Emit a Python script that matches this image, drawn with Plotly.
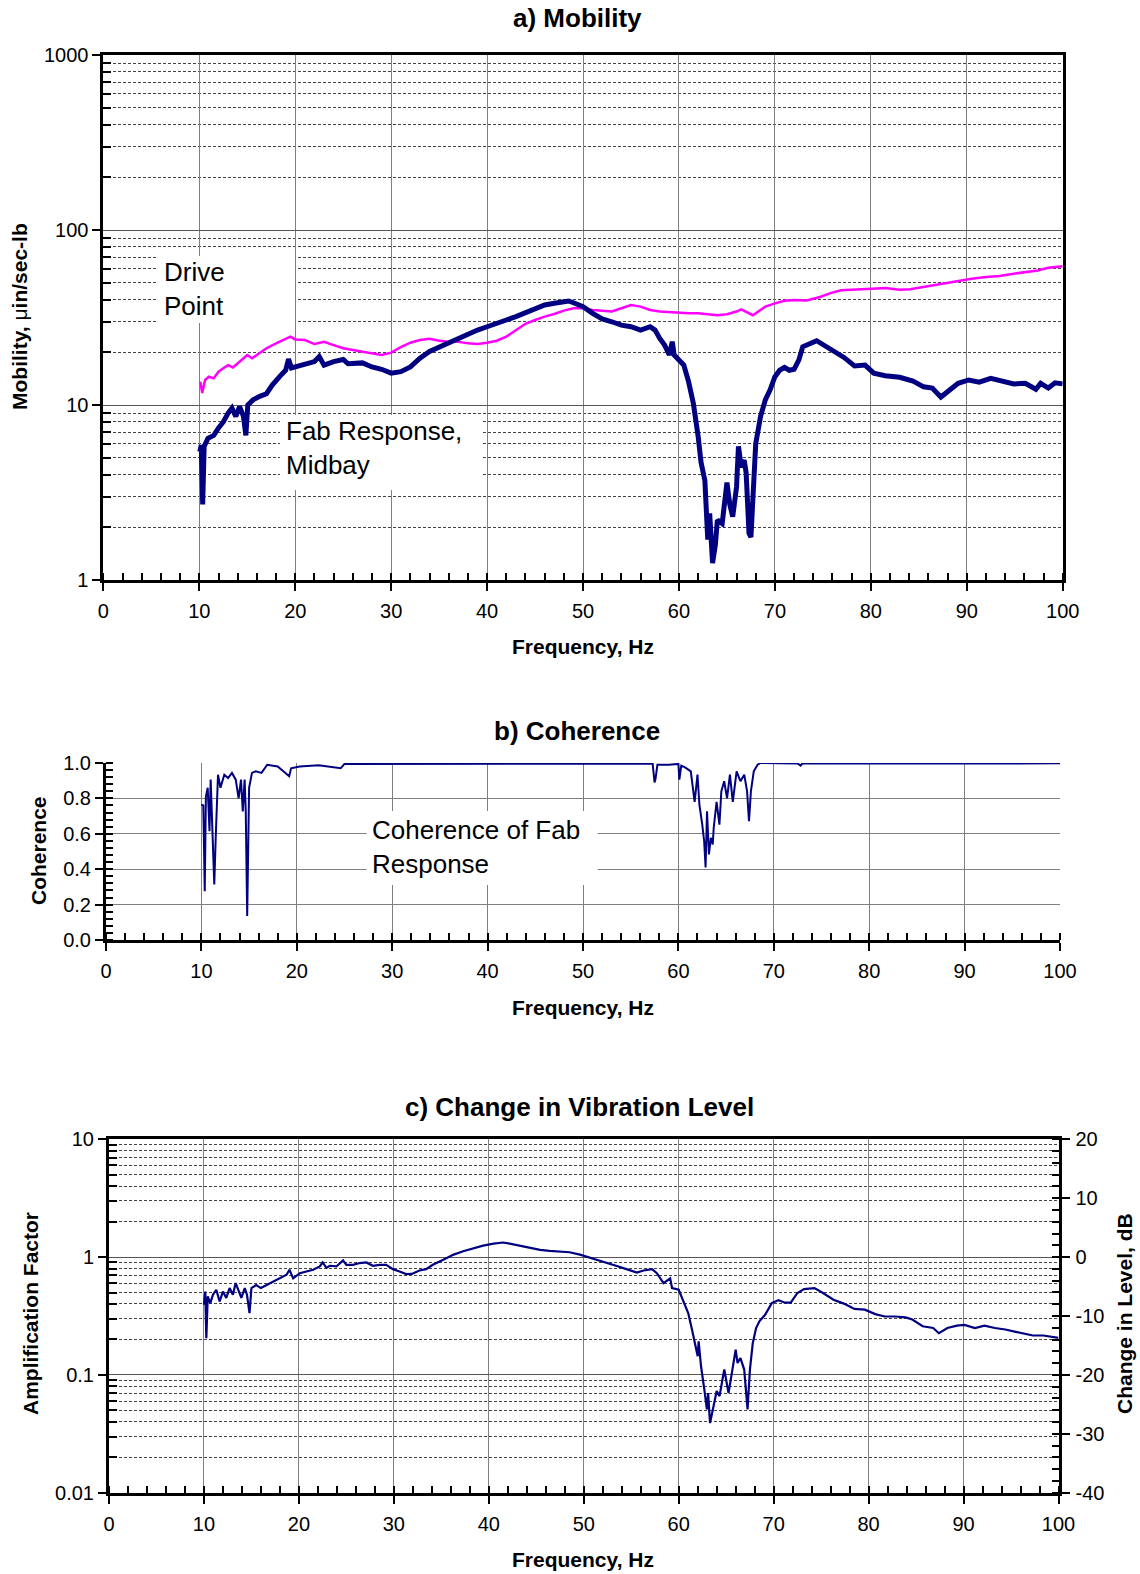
import math
import plotly.graph_objects as go

# ---------------- data ----------------
fab_freq = [10.05, 10.2, 10.35, 10.5, 10.9, 11.5, 12.0, 12.5, 13.0, 13.4, 13.8, 14.2, 14.6, 14.85, 15.05,
            15.6, 16.3, 17.0, 17.6, 18.0, 18.6, 19.0, 19.3, 19.6, 20.0, 21.0, 22.0, 22.5, 23.0, 24.0, 25.0,
            25.5, 26.0, 27.0, 28.0, 29.0, 30.0, 31.0, 32.0, 33.0, 34.0, 35.0, 36.0, 37.0, 38.0, 39.0, 40.0,
            41.0, 42.0, 43.0, 44.0, 45.0, 46.0, 47.0, 48.0, 48.5, 49.0, 50.0, 51.0, 52.0, 53.0, 54.0, 55.0,
            56.0, 57.0, 57.5, 58.0, 58.5, 59.0, 59.3, 59.5, 60.0, 60.5, 61.0, 61.5, 62.0, 62.3, 62.7, 63.0,
            63.2, 63.5, 63.8, 64.0, 64.5, 65.0, 65.3, 65.6, 66.0, 66.2, 66.5, 66.8, 67.0, 67.3, 67.5, 67.8,
            68.0, 68.5, 69.0, 69.5, 70.0, 70.5, 71.0, 71.5, 72.0, 72.5, 72.9, 74.35, 75.1, 76.2, 77.2, 78.3,
            79.4, 80.3, 81.5, 83.0, 84.4, 85.5, 86.4, 87.3, 88.0, 89.1, 90.2, 91.3, 92.5, 93.8, 94.9, 96.1,
            97.2, 97.7, 98.5, 99.2, 100.0]
fab_mob = [5.4, 5.9, 2.7, 5.8, 6.45, 6.7, 7.4, 8.0, 9.0, 9.6, 8.6, 9.8, 8.6, 6.7, 10.0,
           10.7, 11.2, 11.6, 13.0, 13.9, 15.0, 15.8, 18.3, 16.3, 16.5, 16.9, 17.7, 18.9, 16.9, 17.7, 18.2,
           17.2, 17.3, 17.4, 16.5, 16.0, 15.2, 15.5, 16.5, 18.5, 20.2, 21.4, 22.5, 24.0, 25.3, 26.8, 28.0,
           29.1, 30.6, 32.0, 33.7, 35.7, 37.3, 38.1, 38.9, 39.3, 38.4, 36.5, 33.4, 31.0, 29.9, 28.6, 28.0,
           26.8, 28.0, 26.8, 24.0, 22.0, 19.3, 23.0, 19.3, 18.1, 16.9, 13.6, 10.2, 6.6, 4.7, 3.7, 1.7,
           2.4, 1.25, 1.6, 2.2, 2.1, 3.6, 2.7, 2.3, 3.4, 5.8, 4.4, 4.85, 4.1, 1.85, 1.76, 3.7,
           6.0, 8.6, 10.7, 12.2, 14.5, 15.8, 16.4, 15.8, 16.0, 18.1, 21.5, 23.3, 22.0, 19.9, 18.7, 16.7,
           16.9, 15.2, 14.7, 14.4, 13.7, 12.7, 12.5, 11.1, 12.0, 13.3, 13.9, 13.5, 14.2, 13.6, 13.2, 13.3,
           12.3, 13.3, 12.5, 13.4, 13.2]

drive_freq = [10.1, 10.3, 10.6, 11.0, 11.5, 12.0, 12.5, 13.0, 13.5, 14.0, 14.5, 15.0, 15.5, 16.0, 17.0,
              18.0, 19.0, 19.5, 20.0, 21.0, 22.0, 23.0, 24.0, 25.0, 26.0, 27.0, 28.0, 29.0, 30.0, 31.0,
              32.0, 33.0, 34.0, 35.0, 36.0, 37.0, 38.0, 39.0, 40.0, 41.0, 42.0, 43.0, 44.0, 45.0, 46.0,
              47.0, 48.0, 49.0, 50.0, 51.0, 52.0, 53.0, 54.0, 55.0, 56.0, 57.0, 58.0, 59.0, 60.0, 61.0,
              62.0, 63.0, 64.0, 65.0, 66.0, 66.5, 67.0, 67.7, 68.0, 69.0, 70.0, 71.0, 72.0, 73.3, 74.7,
              75.8, 76.9, 78.3, 80.1, 81.5, 83.0, 84.1, 85.1, 86.2, 87.7, 89.1, 90.5, 92.0, 93.4, 94.9,
              96.3, 97.4, 98.5, 100.0]
drive_mob = [13.6, 11.7, 13.9, 14.5, 14.2, 15.5, 16.2, 16.9, 16.4, 17.3, 18.1, 19.3, 18.5, 19.3, 21.1,
             22.5, 24.0, 24.6, 23.7, 23.5, 22.3, 23.0, 22.0, 21.1, 20.6, 20.2, 19.8, 19.3, 19.9, 21.4,
             22.7, 23.5, 23.9, 23.3, 23.0, 23.0, 22.5, 22.3, 22.7, 23.3, 24.6, 26.8, 29.1, 30.6, 32.0,
             33.1, 34.6, 35.7, 35.7, 34.9, 34.5, 34.2, 35.7, 37.3, 36.5, 34.9, 34.2, 33.9, 33.7, 33.4,
             33.4, 33.0, 32.6, 33.0, 34.2, 35.2, 34.2, 32.6, 33.4, 36.5, 38.1, 39.4, 39.8, 39.6, 41.4,
             43.6, 45.2, 45.8, 46.2, 46.6, 45.6, 45.8, 46.8, 48.3, 49.9, 51.1, 52.7, 53.8, 54.6, 56.3,
             57.4, 58.7, 60.8, 62.0]

coh_freq = [10.0, 10.2, 10.35, 10.47, 10.66, 10.85, 10.97, 11.1, 11.35, 11.5, 11.74, 12.0, 12.4, 12.8,
            13.2, 13.6, 13.9, 14.15, 14.34, 14.53, 14.65, 14.8, 15.0, 15.3, 15.7, 16.3, 16.9, 18.0, 19.2,
            19.4, 20.3, 22.3, 24.6, 25.0, 30.0, 35.0, 40.0, 45.0, 50.0, 55.0, 57.3, 57.5, 57.6, 57.8,
            59.0, 60.0, 60.1, 60.3, 60.7, 61.3, 61.7, 62.0, 62.2, 62.5, 62.7, 62.85, 63.0, 63.2, 63.4,
            63.6, 63.7, 64.0, 64.3, 64.5, 64.8, 65.1, 65.4, 65.7, 66.1, 66.5, 66.9, 67.2, 67.4, 67.6,
            67.9, 68.3, 68.6, 72.5, 72.8, 73.0, 80.0, 90.0, 100.0]
coh_val = [0.765, 0.76, 0.276, 0.81, 0.86, 0.615, 0.906, 0.67, 0.314, 0.577, 0.934, 0.86, 0.934, 0.915,
           0.944, 0.906, 0.80, 0.906, 0.727, 0.906, 0.727, 0.135, 0.86, 0.944, 0.953, 0.944, 0.99, 0.98,
           0.925, 0.97, 0.98, 0.987, 0.97, 0.995, 0.995, 0.998, 0.997, 0.998, 0.998, 0.997, 0.997, 0.89,
           0.91, 0.99, 0.99, 0.995, 0.906, 0.985, 0.975, 0.953, 0.78, 0.934, 0.765, 0.652, 0.558, 0.41,
           0.727, 0.483, 0.577, 0.54, 0.633, 0.78, 0.652, 0.84, 0.897, 0.80, 0.934, 0.78, 0.953, 0.897,
           0.934, 0.84, 0.671, 0.84, 0.953, 0.99, 1.0, 0.997, 0.985, 0.997, 0.998, 0.998, 0.998]

amp_freq = [10.0, 10.14, 10.25, 10.4, 10.67, 10.95, 11.3, 11.65, 12.0, 12.35, 12.7, 13.05, 13.34, 13.7,
            13.94, 14.3, 14.53, 14.8, 15.0, 15.5, 16.0, 16.6, 17.3, 18.0, 18.7, 19.0, 19.4, 20.1, 20.8,
            21.5, 22.2, 22.5, 22.9, 23.25, 23.95, 24.65, 25.0, 25.7, 26.4, 27.1, 27.8, 28.5, 29.2, 29.9,
            30.6, 31.3, 31.9, 32.7, 33.4, 34.1, 35.2, 36.3, 37.3, 38.4, 39.4, 40.5, 41.5, 42.2, 43.3,
            44.3, 45.4, 46.4, 47.5, 48.5, 49.6, 50.3, 51.3, 52.4, 53.4, 54.5, 55.6, 56.3, 57.2, 57.7,
            58.4, 59.1, 59.3, 60.0, 60.5, 61.0, 61.4, 61.8, 62.0, 62.1, 62.35, 62.7, 62.97, 63.1, 63.3,
            63.6, 64.0, 64.3, 64.8, 65.25, 65.6, 66.0, 66.2, 66.5, 66.9, 67.25, 67.5, 67.8, 68.15, 68.5,
            69.1, 69.8, 70.5, 71.2, 71.8, 72.5, 73.2, 74.3, 75.2, 76.3, 77.4, 78.5, 79.6, 80.7, 81.7,
            82.8, 83.9, 84.6, 85.7, 86.8, 87.4, 88.3, 89.3, 90.1, 91.2, 92.2, 93.3, 94.4, 95.5, 96.6,
            97.3, 98.4, 99.5, 100.0]
amp_val = [0.394, 0.51, 0.205, 0.464, 0.407, 0.48, 0.528, 0.42, 0.51, 0.45, 0.546, 0.48, 0.602, 0.51,
           0.45, 0.546, 0.48, 0.335, 0.546, 0.58, 0.546, 0.58, 0.62, 0.66, 0.708, 0.78, 0.66, 0.73, 0.755,
           0.78, 0.833, 0.90, 0.81, 0.844, 0.833, 0.937, 0.86, 0.86, 0.89, 0.90, 0.844, 0.86, 0.86, 0.79,
           0.755, 0.717, 0.72, 0.77, 0.79, 0.86, 0.949, 1.05, 1.12, 1.19, 1.25, 1.30, 1.33, 1.30, 1.25,
           1.19, 1.15, 1.13, 1.12, 1.10, 1.05, 1.01, 0.96, 0.90, 0.844, 0.79, 0.74, 0.77, 0.79, 0.73,
           0.60, 0.66, 0.546, 0.528, 0.42, 0.335, 0.243, 0.175, 0.144, 0.193, 0.119, 0.075, 0.051, 0.070,
           0.039, 0.051, 0.073, 0.066, 0.111, 0.070, 0.104, 0.164, 0.126, 0.139, 0.111, 0.051, 0.111,
           0.186, 0.25, 0.285, 0.324, 0.407, 0.43, 0.41, 0.41, 0.496, 0.535, 0.546, 0.496, 0.435, 0.403,
           0.363, 0.358, 0.328, 0.313, 0.313, 0.308, 0.295, 0.259, 0.25, 0.226, 0.25, 0.262, 0.266, 0.25,
           0.262, 0.25, 0.243, 0.232, 0.224, 0.216, 0.216, 0.209, 0.206]

amp_db = [20 * math.log10(v) for v in amp_val]

mob_ticks = [1, 10, 100, 1000]
amp_ticks = [0.01, 0.1, 1, 10]
amp_tick_text = ["0.01", "0.1", "1", "10"]
db_ticks = [-40, -30, -20, -10, 0, 10, 20]
db_tick_text = ["-40", "-30", "-20", "-10", "0", "10", "20"]

# ---------------- layout helpers ----------------
W, H = 1140, 1574
FONT = "Liberation Sans, Arial, sans-serif"
NAVY = "#000080"
MAGENTA = "#FF00FF"


def fx(p):
    return p / W


def fy(p):
    return 1 - p / H


def minor_log(lo, hi):
    vals = []
    d = lo
    while d < hi * 0.999:
        for k in range(2, 10):
            vals.append(round(k * d, 6))
        d *= 10
    return vals


tickfont = dict(family=FONT, size=20, color="black")

fig = go.Figure()
fig.add_trace(go.Scatter(x=drive_freq, y=drive_mob, mode="lines",
                         line=dict(color=MAGENTA, width=2.5), xaxis="x", yaxis="y"))
fig.add_trace(go.Scatter(x=fab_freq, y=fab_mob, mode="lines",
                         line=dict(color=NAVY, width=5), xaxis="x", yaxis="y"))
fig.add_trace(go.Scatter(x=coh_freq, y=coh_val, mode="lines",
                         line=dict(color=NAVY, width=2), xaxis="x2", yaxis="y2"))
fig.add_trace(go.Scatter(x=amp_freq, y=amp_val, mode="lines",
                         line=dict(color=NAVY, width=2.2), xaxis="x3", yaxis="y3"))
fig.add_trace(go.Scatter(x=amp_freq, y=amp_db, mode="lines",
                         line=dict(color="rgba(0,0,0,0)", width=1), xaxis="x3", yaxis="y4",
                         hoverinfo="skip"))


def xaxis_common(domain, anchor, mirror):
    return dict(domain=domain, anchor=anchor, range=[0, 100], tickmode="linear", tick0=0, dtick=10,
                ticks="outside", ticklen=8, tickwidth=2, tickcolor="black", automargin=False,
                showline=True, linecolor="black", linewidth=3, mirror=mirror,
                showgrid=True, gridcolor="#808080", gridwidth=1, zeroline=False,
                tickfont=tickfont, ticklabelstandoff=3,
                minor=dict(dtick=2, tick0=0, ticks="inside", ticklen=7, tickwidth=2,
                           tickcolor="black", showgrid=False))


fig.update_layout(
    width=W, height=H, margin=dict(l=0, r=0, t=0, b=0, autoexpand=False),
    paper_bgcolor="white", plot_bgcolor="white", showlegend=False,
    xaxis=xaxis_common([fx(103.4), fx(1062.7)], "y", True),
    yaxis=dict(domain=[fy(580), fy(55)], anchor="x", type="log", range=[0, 3], automargin=False,
               tickmode="array", tickvals=mob_ticks, ticktext=[str(v) for v in mob_ticks],
               ticks="outside", ticklen=8, tickwidth=2, tickcolor="black",
               showline=True, linecolor="black", linewidth=3, mirror=True,
               showgrid=True, gridcolor="#555555", gridwidth=1, zeroline=False,
               tickfont=tickfont, ticklabelstandoff=0,
               minor=dict(tickmode="array", tickvals=minor_log(1, 1000), ticks="inside", ticklen=8,
                          tickwidth=2, tickcolor="black", showgrid=True, gridcolor="#444444",
                          gridwidth=1, griddash="3px,2px")),
    xaxis2=xaxis_common([fx(106), fx(1060)], "y2", False),
    yaxis2=dict(domain=[fy(940), fy(763)], anchor="x2", range=[0, 1], tickmode="linear", tick0=0,
                dtick=0.2, tickformat=".1f", automargin=False,
                ticks="outside", ticklen=8, tickwidth=2, tickcolor="black",
                showline=True, linecolor="black", linewidth=3, mirror=False,
                showgrid=True, gridcolor="#808080", gridwidth=1, zeroline=False,
                tickfont=tickfont, ticklabelstandoff=0,
                minor=dict(dtick=0.04, tick0=0, ticks="inside", ticklen=7, tickwidth=2,
                           tickcolor="black", showgrid=False)),
    xaxis3=xaxis_common([fx(109), fx(1058.5)], "y3", True),
    yaxis3=dict(domain=[fy(1492.7), fy(1139.3)], anchor="x3", type="log", range=[-2, 1],
                tickmode="array", tickvals=amp_ticks, ticktext=amp_tick_text, automargin=False,
                ticks="outside", ticklen=8, tickwidth=2, tickcolor="black",
                showline=True, linecolor="black", linewidth=3, mirror=False,
                showgrid=True, gridcolor="#555555", gridwidth=1, zeroline=False,
                tickfont=tickfont, ticklabelstandoff=0,
                minor=dict(tickmode="array", tickvals=minor_log(0.01, 10), ticks="inside", ticklen=8,
                           tickwidth=2, tickcolor="black", showgrid=True, gridcolor="#444444",
                           gridwidth=1, griddash="3px,2px")),
    yaxis4=dict(overlaying="y3", anchor="x3", side="right", range=[-40, 20], automargin=False,
                tickmode="array", tickvals=db_ticks, ticktext=db_tick_text,
                ticks="outside", ticklen=8, tickwidth=2, tickcolor="black",
                showline=True, linecolor="black", linewidth=3, showgrid=False, zeroline=False,
                tickfont=tickfont, ticklabelstandoff=2,
                minor=dict(dtick=2, tick0=0, ticks="inside", ticklen=7, tickwidth=2,
                           tickcolor="black", showgrid=False)),
)

# white boxes behind the in-plot labels (they do not overlap any curve)
boxes = [
    ("x domain", "y domain", (157 - 103.4) / 959.3, (295 - 103.4) / 959.3, (580 - 323) / 525, (580 - 256) / 525),
    ("x domain", "y domain", (280 - 103.4) / 959.3, (483 - 103.4) / 959.3, (580 - 490) / 525, (580 - 415) / 525),
    ("x2 domain", "y2 domain", (366.6 - 106) / 954, (597.8 - 106) / 954, (940 - 885) / 177, (940 - 811) / 177),
]
for xr, yr, x0, x1, y0, y1 in boxes:
    fig.add_shape(type="rect", xref=xr, yref=yr, x0=x0, x1=x1, y0=y0, y1=y1,
                  fillcolor="white", line=dict(width=0), layer="above")

label_font = dict(family=FONT, size=26, color="black")
fig.add_annotation(xref="x domain", yref="y domain", x=(162 - 103.4) / 959.3, y=(580 - 288.5) / 525,
                   text="Drive<br>Point", showarrow=False, xanchor="left", yanchor="middle",
                   align="left", font=label_font)
fig.add_annotation(xref="x domain", yref="y domain", x=(284 - 103.4) / 959.3, y=(580 - 448) / 525,
                   text="Fab Response,<br>Midbay", showarrow=False, xanchor="left", yanchor="middle",
                   align="left", font=label_font)
fig.add_annotation(xref="x2 domain", yref="y2 domain", x=(370 - 106) / 954, y=(940 - 847) / 177,
                   text="Coherence of Fab<br>Response", showarrow=False, xanchor="left",
                   yanchor="middle", align="left", font=label_font)

title_font = dict(family=FONT, size=26, color="black")
axis_title_font = dict(family=FONT, size=21, color="black")


def paper_text(text, x, y, font, angle=0):
    fig.add_annotation(xref="paper", yref="paper", x=fx(x), y=fy(y), text=text, showarrow=False,
                       xanchor="center", yanchor="middle", textangle=angle, font=font)


paper_text("<b>a) Mobility</b>", 577, 18, title_font)
paper_text("<b>b) Coherence</b>", 577, 731, title_font)
paper_text("<b>c) Change in Vibration Level</b>", 579, 1107, title_font)

paper_text("<b>Frequency, Hz</b>", 583, 647, axis_title_font)
paper_text("<b>Frequency, Hz</b>", 583, 1007, axis_title_font)
paper_text("<b>Frequency, Hz</b>", 583, 1559, axis_title_font)

paper_text("<b>Mobility, </b>μ<b>in/sec-lb</b>", 19, 317, axis_title_font, -90)
paper_text("<b>Coherence</b>", 38, 851, axis_title_font, -90)
paper_text("<b>Amplification Factor</b>", 30, 1314, axis_title_font, -90)
paper_text("<b>Change in Level, dB</b>", 1124, 1314, axis_title_font, -90)

fig.write_html("out.html")
